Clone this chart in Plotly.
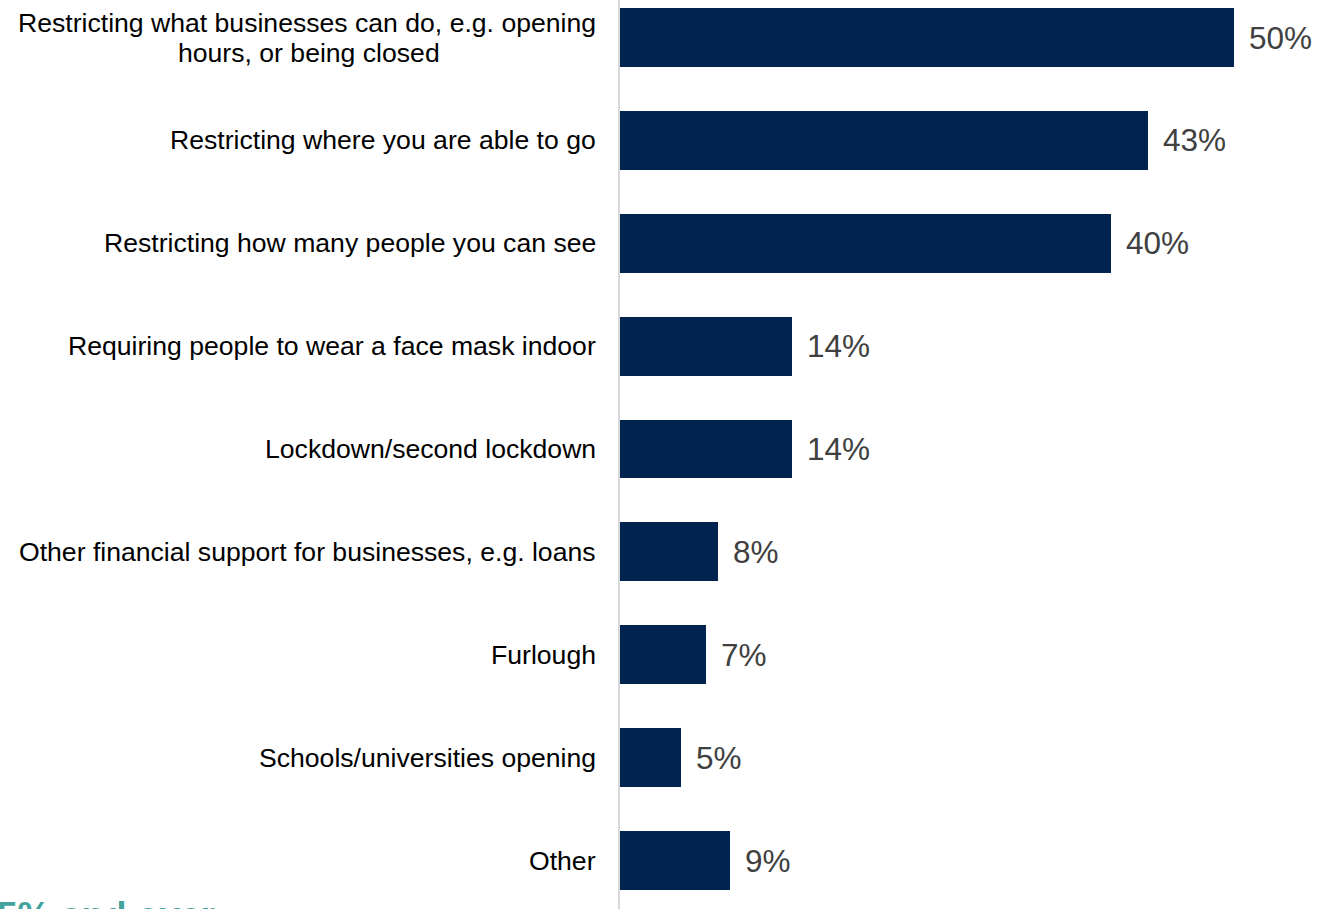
import plotly.graph_objects as go

# Measures mentioned, top to bottom
categories = [
    "Restricting what businesses can do, e.g. opening<br>hours, or being closed",
    "Restricting where you are able to go",
    "Restricting how many people you can see",
    "Requiring people to wear a face mask indoor",
    "Lockdown/second lockdown",
    "Other financial support for businesses, e.g. loans",
    "Furlough",
    "Schools/universities opening",
    "Other",
]
# Share of respondents (%)
values = [50, 43, 40, 14, 14, 8, 7, 5, 9]

BAR_COLOR = "#00234f"
LABEL_FONT = "Liberation Sans, Arial, sans-serif"
LABEL_SIZE = 26.6
LINE_GAP = 30  # px between wrapped label lines

fig = go.Figure(
    go.Bar(
        x=values,
        y=categories,
        orientation="h",
        marker=dict(color=BAR_COLOR, line=dict(width=0)),
        width=0.573,
        hoverinfo="skip",
    )
)

annotations = []
# Category labels: each line centred, block right-aligned against the axis
for cat in categories:
    lines = cat.split("<br>")
    widest = max(len(s) for s in lines)
    n = len(lines)
    for i, line in enumerate(lines):
        offset = ((n - 1) / 2 - i) * LINE_GAP
        annotations.append(
            dict(
                x=0, xref="paper", xanchor="right", xshift=-22,
                y=cat, yref="y", yanchor="middle", yshift=offset,
                text=line, showarrow=False, align="center",
                font=dict(family=LABEL_FONT, size=LABEL_SIZE, color="#000000"),
            )
        )
# Centre the shorter wrapped line under the longer one
first = categories[0].split("<br>")
if len(first) > 1:
    annotations[1]["xanchor"] = "center"
    annotations[1]["xshift"] = -22 - 289

# Value labels to the right of each bar
for cat, v in zip(categories, values):
    annotations.append(
        dict(
            x=v, xref="x", xanchor="left", xshift=13,
            y=cat, yref="y", yanchor="middle",
            text=f"{v}%", showarrow=False,
            font=dict(family=LABEL_FONT, size=31.5, color="#404040"),
        )
    )
# Heading of the next panel, running off the bottom edge
annotations.append(
    dict(
        x=0, xref="paper", xshift=-625, xanchor="left",
        y=0, yref="paper", yanchor="middle", yshift=-6,
        text="<b>5% and over</b>", showarrow=False,
        font=dict(family=LABEL_FONT, size=37, color="#45a39e"),
    )
)

fig.update_layout(
    width=1317,
    height=909,
    margin=dict(l=620, r=22, t=0, b=0, pad=0),
    paper_bgcolor="white",
    plot_bgcolor="white",
    showlegend=False,
    bargap=0,
    annotations=annotations,
    xaxis=dict(
        range=[0, 55],
        visible=False,
        fixedrange=True,
    ),
    yaxis=dict(
        type="category",
        categoryorder="array",
        categoryarray=categories,
        range=[8.4714, -0.3645],
        showticklabels=False,
        ticks="",
        showgrid=False,
        zeroline=False,
        showline=True,
        linecolor="#d9d9d9",
        linewidth=1.5,
        fixedrange=True,
    ),
)

fig.write_html("out.html")
